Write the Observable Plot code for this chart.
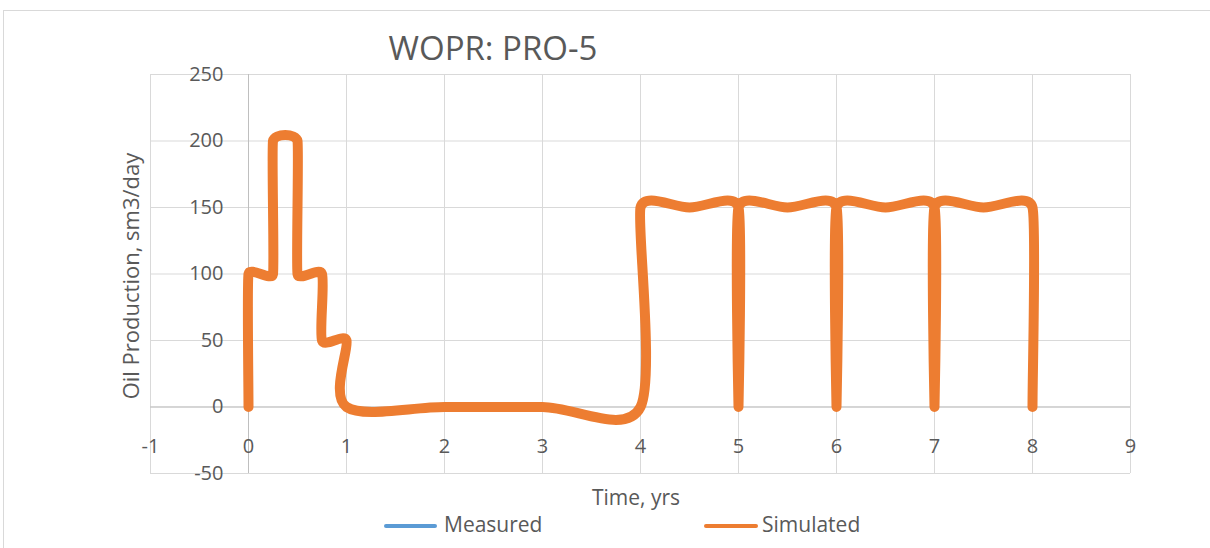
<!DOCTYPE html>
<html>
<head>
<meta charset="utf-8">
<script src="https://cdn.jsdelivr.net/npm/d3@7"></script>
<script src="https://cdn.jsdelivr.net/npm/@observablehq/plot@0.6"></script>
<style>
  html, body { margin: 0; padding: 0; background: #fff; }
  #wrap { position: relative; width: 1210px; height: 548px; overflow: hidden; font-family: "Open Sans", sans-serif; color: #595959; }
  #frame { position: absolute; left: 3px; top: 10px; width: 1300px; height: 700px; border: 1px solid #d9d9d9; box-sizing: border-box; }
  #chart { position: absolute; left: 0; top: 0; }
  .t { position: absolute; white-space: nowrap; line-height: 1; }
  .sw { position: absolute; height: 4px; border-radius: 2px; }
</style>
</head>
<body>
<div id="wrap">
  <div id="frame"></div>
  <div id="chart"></div>
  <div class="t" id="title" style="font-size:33px; left:493px; top:31px; transform:translateX(-50%);">WOPR: PRO-5</div>
  <div class="t" id="ytitle" style="font-size:22px; left:130px; top:276px; transform:translate(-50%,-50%) rotate(-90deg);">Oil Production, sm3/day</div>
  <div class="t" id="xtitle" style="font-size:21px; left:636px; top:487px; transform:translateX(-50%);">Time, yrs</div>
  <div class="sw" style="left:384px; top:524px; width:53px; background:#5b9bd5;"></div>
  <div class="t" style="font-size:21px; left:444px; top:514px;">Measured</div>
  <div class="sw" style="left:704px; top:524px; width:54px; background:#ed7d31;"></div>
  <div class="t" style="font-size:21px; left:762px; top:514px;">Simulated</div>
</div>
<script>
// ---- data ----
const xTicks = [-1, 0, 1, 2, 3, 4, 5, 6, 7, 8, 9];
const yTicks = [-50, 0, 50, 100, 150, 200, 250];
const simTime = [0, 0, 0.25, 0.25, 0.5, 0.5, 0.75, 0.75, 1, 1, 2, 3, 4, 4, 4.5, 5, 5, 5, 5.5, 6, 6, 6, 6.5, 7, 7, 7, 7.5, 8, 8];
const simRate = [0, 100, 100, 200, 200, 100, 100, 50, 50, 0, 0, 0, 0, 150, 150, 150, 0, 150, 150, 150, 0, 150, 150, 150, 0, 150, 150, 150, 0];
const seriesNames = ["Measured", "Simulated"];

// Excel-like smoothed scatter line: Bezier with 1/6 tangents,
// control distance limited by the shorter neighbouring segment
function excelSmooth(context) {
  let pts = [];
  const k = 0.33;
  const dist = (a, b) => Math.hypot(b[0] - a[0], b[1] - a[1]);
  function clamp(vx, vy, maxLen) {
    const l = Math.hypot(vx, vy);
    if (l > maxLen && l > 0) { const s = maxLen / l; return [vx * s, vy * s]; }
    return [vx, vy];
  }
  function draw() {
    const n = pts.length;
    if (!n) return;
    context.moveTo(pts[0][0], pts[0][1]);
    for (let i = 0; i < n - 1; i++) {
      const p0 = pts[Math.max(i - 1, 0)], p1 = pts[i], p2 = pts[i + 1], p3 = pts[Math.min(i + 2, n - 1)];
      const d01 = dist(p0, p1), d12 = dist(p1, p2), d23 = dist(p2, p3);
      const m1 = d01 > 0 ? Math.min(d01, d12) : d12;
      const m2 = d23 > 0 ? Math.min(d12, d23) : d12;
      const t1 = clamp((p2[0] - p0[0]) / 6, (p2[1] - p0[1]) / 6, k * m1);
      const t2 = clamp((p3[0] - p1[0]) / 6, (p3[1] - p1[1]) / 6, k * m2);
      context.bezierCurveTo(p1[0] + t1[0], p1[1] + t1[1], p2[0] - t2[0], p2[1] - t2[1], p2[0], p2[1]);
    }
  }
  return {
    areaStart() {}, areaEnd() {},
    lineStart() { pts = []; },
    lineEnd() { draw(); },
    point(x, y) { pts.push([+x, +y]); }
  };
}

const idx = simTime.map((_, i) => i);
const grid = "#d9d9d9";
const txt = "#595959";

const chart = Plot.plot({
  width: 1210,
  height: 548,
  marginLeft: 150,
  marginRight: 80,
  marginTop: 74,
  marginBottom: 75,
  style: { fontFamily: "'Open Sans', sans-serif", background: "transparent", overflow: "visible" },
  x: { domain: [-1, 9], axis: null },
  y: { domain: [-50, 250], axis: null },
  marks: [
    Plot.ruleX(xTicks, { x: d => d, stroke: grid, strokeWidth: 1 }),
    Plot.ruleY(yTicks, { y: d => d, stroke: grid, strokeWidth: 1 }),
    Plot.ruleY([0], { y: d => d, x1: -1, x2: 9, stroke: "#bfbfbf", strokeWidth: 1 }),
    Plot.ruleX([0], { x: d => d, y1: -50, y2: 250, stroke: "#bfbfbf", strokeWidth: 1 }),
    Plot.text(xTicks, { x: d => d, y: () => 0, dy: 40, text: d => String(d), fill: txt, fontSize: 20, textAnchor: "middle", lineAnchor: "middle" }),
    Plot.text(yTicks, { x: () => 0, y: d => d, dx: -25, text: d => String(d), fill: txt, fontSize: 20, textAnchor: "end", lineAnchor: "middle" }),
    Plot.line(idx, {
      x: i => simTime[i], y: i => simRate[i],
      stroke: "#ed7d31", strokeWidth: 10, strokeLinecap: "round", strokeLinejoin: "round",
      curve: excelSmooth
    })
  ]
});
document.getElementById("chart").appendChild(chart);
</script>
</body>
</html>
